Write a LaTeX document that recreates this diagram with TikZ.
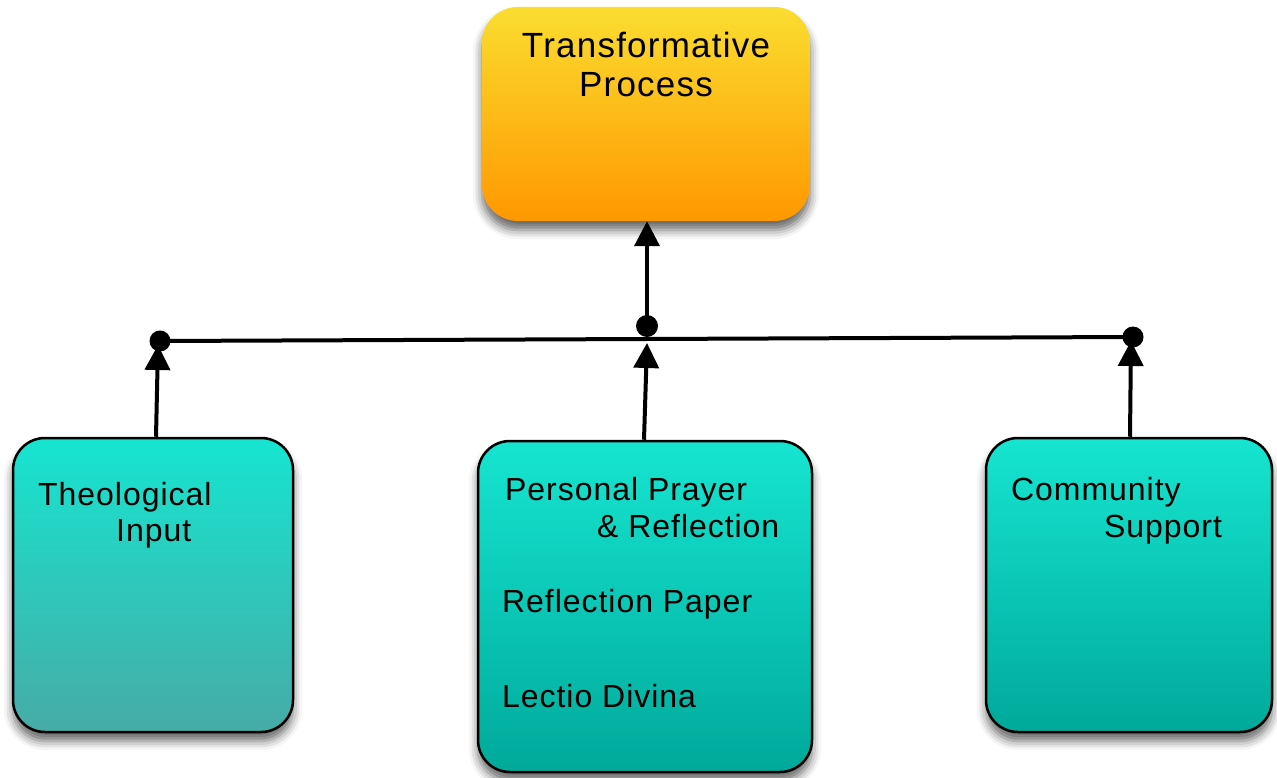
\documentclass[tikz,border=0pt]{standalone}
\usepackage{fontspec}
\setmainfont{Liberation Sans}[LetterSpace=3]
\newfontfamily\topfont{Liberation Sans}[LetterSpace=3.5]
\usetikzlibrary{arrows.meta,shadows.blur}
\definecolor{orTop}{HTML}{FADD30}
\definecolor{orBot}{HTML}{FF9800}
\definecolor{tqTop}{HTML}{16E5D0}
\definecolor{tqBotL}{HTML}{47ABA6}
\definecolor{tqBot}{HTML}{00A99A}
\tikzset{
  x=1pt, y=-1pt,
  boxshadow/.style={blur shadow={shadow xshift=0pt, shadow yshift=-9pt, shadow blur radius=9pt, shadow opacity=60}},
  topbox/.style={rectangle, rounded corners=36pt, top color=orTop, bottom color=orBot, boxshadow, inner sep=0pt},
  tealbox/.style={rectangle, rounded corners=32pt, draw=black, line width=2.5pt, top color=tqTop, bottom color=tqBot, boxshadow, inner sep=0pt},
  lbl/.style={anchor=base west, inner sep=0pt, font=\fontsize{32}{38}\selectfont},
  toplbl/.style={anchor=base, inner sep=0pt, font=\topfont\fontsize{35}{40}\selectfont},
  arr/.style={line width=4pt, -{Triangle[width=25pt,length=25pt]}},
  bar/.style={line width=4pt},
  dot/.style={circle, fill=black, inner sep=0pt, minimum size=21pt},
}
\begin{document}
\begin{tikzpicture}
\useasboundingbox (0,0) rectangle (1277,778);
% boxes
\node[topbox, minimum width=328pt, minimum height=214pt] (tp) at (646,114) {};
\node[tealbox, bottom color=tqBotL, minimum width=280pt, minimum height=294pt] (lb) at (153,585) {};
\node[tealbox, minimum width=334pt, minimum height=331pt] (mb) at (645,606.5) {};
\node[tealbox, minimum width=286pt, minimum height=294pt] (rb) at (1129,585) {};
% texts
\node[toplbl] (t1) at (646,58) {Transformative};
\node[toplbl] (t2) at (646,97) {Process};
\node[lbl] (l1) at (38,505) {Theological};
\node[lbl] (l2) at (116,541) {Input};
\node[lbl] (m1) at (505,500) {Personal Prayer};
\node[lbl] (m2) at (597,537) {\& Reflection};
\node[lbl] (m3) at (502,612) {Reflection Paper};
\node[lbl] (m4) at (502,707) {Lectio Divina};
\node[lbl] (r1) at (1011,500) {Community};
\node[lbl] (r2) at (1104,537) {Support};
% junction points
\coordinate (dl) at (160,341);
\coordinate (dr) at (1133,337);
\coordinate (dm) at (647,326);
\coordinate (jm) at (647,343);
% connectors
\draw[arr] (lb.north -| 156,0) -- (158,345);
\draw[arr] (rb.north -| 1130,0) -- (1131,341);
\draw[arr] (mb.north -| 644,0) -- (jm);
\draw[arr] (dm) -- (tp.south -| dm);
\draw[bar] (dl) -- (dr);
\node[dot] (ndl) at (dl) {};
\node[dot] (ndr) at (dr) {};
\node[dot, minimum size=22pt] (ndm) at (dm) {};
\end{tikzpicture}
\end{document}
